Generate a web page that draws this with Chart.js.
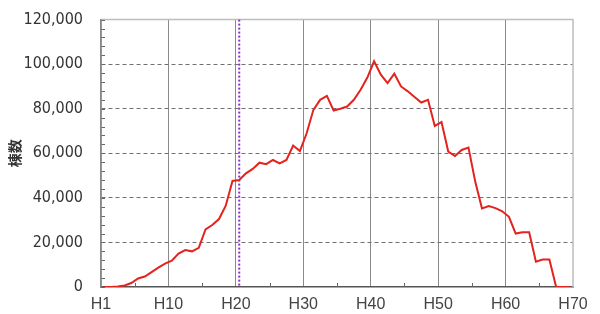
<!DOCTYPE html>
<html>
<head>
<meta charset="utf-8">
<script src="https://cdn.jsdelivr.net/npm/chart.js@4/dist/chart.umd.min.js"></script>
<style>
  html, body { margin: 0; padding: 0; background: #fff; }
  #wrap { width: 600px; height: 314px; }
</style>
</head>
<body>
<div id="wrap"><canvas id="chart"></canvas></div>
<script>
// Années (Heisei) et nombre de bâtiments
const annees = [
  1, 2, 3, 4, 5, 6, 7, 8, 9, 10,
  11, 12, 13, 14, 15, 16, 17, 18, 19, 20,
  21, 22, 23, 24, 25, 26, 27, 28, 29, 30,
  31, 32, 33, 34, 35, 36, 37, 38, 39, 40,
  41, 42, 43, 44, 45, 46, 47, 48, 49, 50,
  51, 52, 53, 54, 55, 56, 57, 58, 59, 60,
  61, 62, 63, 64, 65, 66, 67, 68, 69, 70
];
const nombres = [
  0, 0, 200, 700, 1800, 3800, 4700, 6700, 8700, 10500,
  11800, 15000, 16600, 16000, 17600, 25800, 27800, 30500, 36500, 47600,
  48000, 51000, 53000, 55800, 55100, 57000, 55500, 57000, 63500, 61000,
  69000, 79500, 84000, 85800, 79200, 80000, 81000, 84000, 88500, 94000,
  101300, 95300, 91500, 95700, 90000, 87800, 85300, 82800, 84000, 72300,
  74000, 60800, 58800, 61500, 62600, 47300, 35300, 36300, 35400, 34000,
  31500, 24000, 24600, 24600, 11300, 12300, 12300, 0, 0, 0
];
const ticksX = [0, 10, 20, 30, 40, 50, 60, 70];
const ticksY = [0, 20000, 40000, 60000, 80000, 100000, 120000];
const anneeRepere = 21; // ligne pointillée violette

// Cadre, petites graduations et ligne verticale
const decorPlugin = {
  id: 'decor',
  beforeDatasetsDraw(chart) {
    const { ctx, chartArea: a, scales: { x, y } } = chart;
    ctx.save();
    // cadre haut / droite
    ctx.strokeStyle = '#bdbdbd';
    ctx.lineWidth = 1.5;
    ctx.beginPath();
    ctx.moveTo(a.left, a.top);
    ctx.lineTo(a.right, a.top);
    ctx.lineTo(a.right, a.bottom);
    ctx.stroke();
    // petites graduations
    ctx.strokeStyle = '#666';
    ctx.lineWidth = 1;
    ctx.beginPath();
    for (let v = 0; v <= 120000; v += 4000) {
      const py = Math.round(y.getPixelForValue(v)) + 0.5;
      ctx.moveTo(a.left, py);
      ctx.lineTo(a.left + 4, py);
    }
    for (let v = 5; v < 70; v += 10) {
      const px = Math.round(x.getPixelForValue(v)) + 0.5;
      ctx.moveTo(px, a.bottom);
      ctx.lineTo(px, a.bottom - 4);
    }
    ctx.stroke();
    // axe vertical plein
    ctx.strokeStyle = '#888';
    ctx.lineWidth = 1.5;
    ctx.beginPath();
    ctx.moveTo(a.left, a.top);
    ctx.lineTo(a.left, a.bottom);
    ctx.stroke();
    // ligne pointillée
    const px = x.getPixelForValue(anneeRepere - 0.5);
    ctx.strokeStyle = '#8e2fc4';
    ctx.lineWidth = 2;
    ctx.setLineDash([2, 2]);
    ctx.beginPath();
    ctx.moveTo(px, a.top);
    ctx.lineTo(px, a.bottom);
    ctx.stroke();
    ctx.restore();
  }
};

new Chart(document.getElementById('chart'), {
  type: 'line',
  data: {
    datasets: [{
      data: annees.map((a, i) => ({ x: a - 0.5, y: nombres[i] })),
      borderColor: '#e3231e',
      borderWidth: 2,
      pointRadius: 0,
      tension: 0,
      fill: false
    }]
  },
  options: {
    responsive: true,
    maintainAspectRatio: false,
    animation: false,
    layout: {
      padding: { top: 12, right: 27, bottom: 0, left: 6 }
    },
    plugins: {
      legend: { display: false },
      tooltip: { enabled: false }
    },
    scales: {
      x: {
        type: 'linear',
        min: 0,
        max: 70,
        afterBuildTicks: scale => { scale.ticks = ticksX.map(v => ({ value: v })); },
        afterFit: scale => { scale.height = 27; },
        ticks: {
          padding: 8,
          maxRotation: 0,
          autoSkip: false,
          color: '#444',
          font: { family: 'Liberation Sans', size: 16 },
          callback: v => (v === 0 ? 'H1' : 'H' + v)
        },
        grid: {
          color: ctx => (ctx.tick && ctx.tick.value > 0 && ctx.tick.value < 70 ? '#8a8a8a' : 'rgba(0,0,0,0)'),
          lineWidth: 1,
          drawTicks: false
        },
        border: { display: true, color: '#555', width: 1.5 }
      },
      y: {
        min: 0,
        max: 120000,
        afterBuildTicks: scale => { scale.ticks = ticksY.map(v => ({ value: v })); },
        afterFit: scale => { scale.width = 95; },
        ticks: {
          padding: 10,
          color: '#333',
          font: { family: "'DejaVu Sans Condensed', 'Liberation Sans', sans-serif", size: 16 },
          callback: v => v.toLocaleString('en-US')
        },
        grid: {
          color: ctx => (ctx.tick && ctx.tick.value > 0 && ctx.tick.value < 120000 ? '#707070' : 'rgba(0,0,0,0)'),
          lineWidth: 1,
          drawTicks: true,
          tickLength: 8,
          tickColor: 'rgba(0,0,0,0)'
        },
        border: { display: true, color: '#888', width: 1.5, dash: [4, 3] },
        title: {
          display: true,
          text: '棟数',
          color: '#333',
          padding: 0,
          font: { family: 'Noto Sans CJK JP', size: 14, weight: 'bold' }
        }
      }
    }
  },
  plugins: [decorPlugin]
});
</script>
</body>
</html>
